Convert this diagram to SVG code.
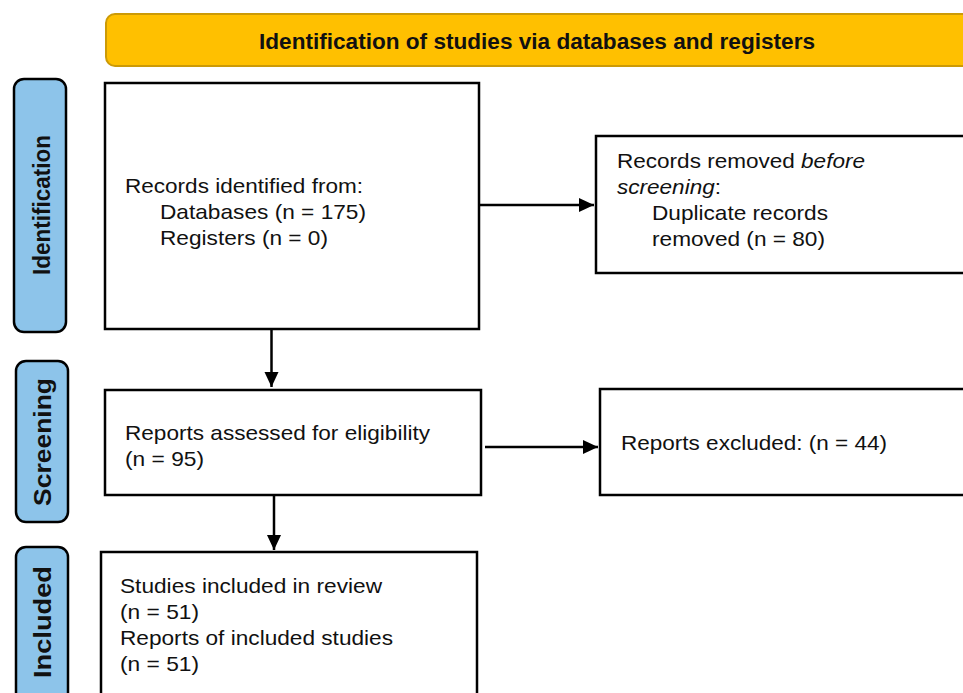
<svg xmlns="http://www.w3.org/2000/svg" width="963" height="693" viewBox="0 0 963 693">
<style>
.box{fill:#fff;stroke:#000;stroke-width:2.5}
.side{fill:#8DC4EA;stroke:#000;stroke-width:2.5}
.t{font-family:"Liberation Sans",Arial,sans-serif;font-size:21px;fill:#111}
.sl{font-family:"Liberation Sans",Arial,sans-serif;font-size:24px;font-weight:bold;fill:#111;text-anchor:middle}
.hd{font-family:"Liberation Sans",Arial,sans-serif;font-size:22px;font-weight:bold;fill:#111}
.c{stroke:#000;stroke-width:2.5;fill:none;marker-end:url(#ah)}
</style>
<defs>
<marker id="ah" markerUnits="userSpaceOnUse" markerWidth="16" markerHeight="16" viewBox="0 0 16 16" refX="15" refY="8" orient="auto">
<path d="M0,1 L15,8 L0,15 Z" fill="#000"/>
</marker>
</defs>
<rect width="963" height="693" fill="#fff"/>
<g id="header">
<rect x="106" y="14" width="880" height="52" rx="9" fill="#FFC000" stroke="#CC9A06" stroke-width="2"/>
<text class="hd" x="259" y="49" textLength="556" lengthAdjust="spacingAndGlyphs">Identification of studies via databases and registers</text>
</g>
<g id="lbl-identification">
<rect class="side" x="14" y="79" width="52" height="253" rx="10"/>
<text class="sl" transform="translate(50,205) rotate(-90)" textLength="140" lengthAdjust="spacingAndGlyphs">Identification</text>
</g>
<g id="lbl-screening">
<rect class="side" x="16" y="361" width="52" height="161" rx="10"/>
<text class="sl" transform="translate(51,442) rotate(-90)" textLength="128" lengthAdjust="spacingAndGlyphs">Screening</text>
</g>
<g id="lbl-included">
<rect class="side" x="16" y="547" width="52" height="170" rx="10"/>
<text class="sl" transform="translate(51,622) rotate(-90)" textLength="112" lengthAdjust="spacingAndGlyphs">Included</text>
</g>
<g id="records-identified">
<rect class="box" x="105" y="83" width="374" height="246"/>
<text class="t" x="125" y="193" textLength="238" lengthAdjust="spacingAndGlyphs">Records identified from:</text>
<text class="t" x="160" y="219" textLength="206" lengthAdjust="spacingAndGlyphs">Databases (n = 175)</text>
<text class="t" x="160" y="245" textLength="168" lengthAdjust="spacingAndGlyphs">Registers (n = 0)</text>
</g>
<g id="records-removed">
<rect class="box" x="596" y="136" width="400" height="137"/>
<text class="t" x="617" y="168" textLength="248" lengthAdjust="spacingAndGlyphs">Records removed <tspan font-style="italic">before</tspan></text>
<text class="t" x="617" y="194" textLength="104" lengthAdjust="spacingAndGlyphs"><tspan font-style="italic">screening</tspan>:</text>
<text class="t" x="652" y="220" textLength="176" lengthAdjust="spacingAndGlyphs">Duplicate records</text>
<text class="t" x="652" y="246" textLength="173" lengthAdjust="spacingAndGlyphs">removed (n = 80)</text>
</g>
<g id="reports-assessed">
<rect class="box" x="105" y="390" width="376" height="105"/>
<text class="t" x="125" y="440" textLength="305" lengthAdjust="spacingAndGlyphs">Reports assessed for eligibility</text>
<text class="t" x="125" y="466" textLength="79" lengthAdjust="spacingAndGlyphs">(n = 95)</text>
</g>
<g id="reports-excluded">
<rect class="box" x="600" y="389" width="400" height="106"/>
<text class="t" x="621" y="450" textLength="266" lengthAdjust="spacingAndGlyphs">Reports excluded: (n = 44)</text>
</g>
<g id="studies-included">
<rect class="box" x="101" y="552" width="376" height="160"/>
<text class="t" x="120" y="593" textLength="262" lengthAdjust="spacingAndGlyphs">Studies included in review</text>
<text class="t" x="120" y="619" textLength="79" lengthAdjust="spacingAndGlyphs">(n = 51)</text>
<text class="t" x="120" y="645" textLength="273" lengthAdjust="spacingAndGlyphs">Reports of included studies</text>
<text class="t" x="120" y="671" textLength="79" lengthAdjust="spacingAndGlyphs">(n = 51)</text>
</g>
<g id="connectors">
<line class="c" x1="480" y1="205" x2="594" y2="205"/>
<line class="c" x1="485" y1="447" x2="598" y2="447"/>
<line class="c" x1="271.5" y1="330" x2="271.5" y2="387"/>
<line class="c" x1="274" y1="496" x2="274" y2="550"/>
</g>
</svg>
